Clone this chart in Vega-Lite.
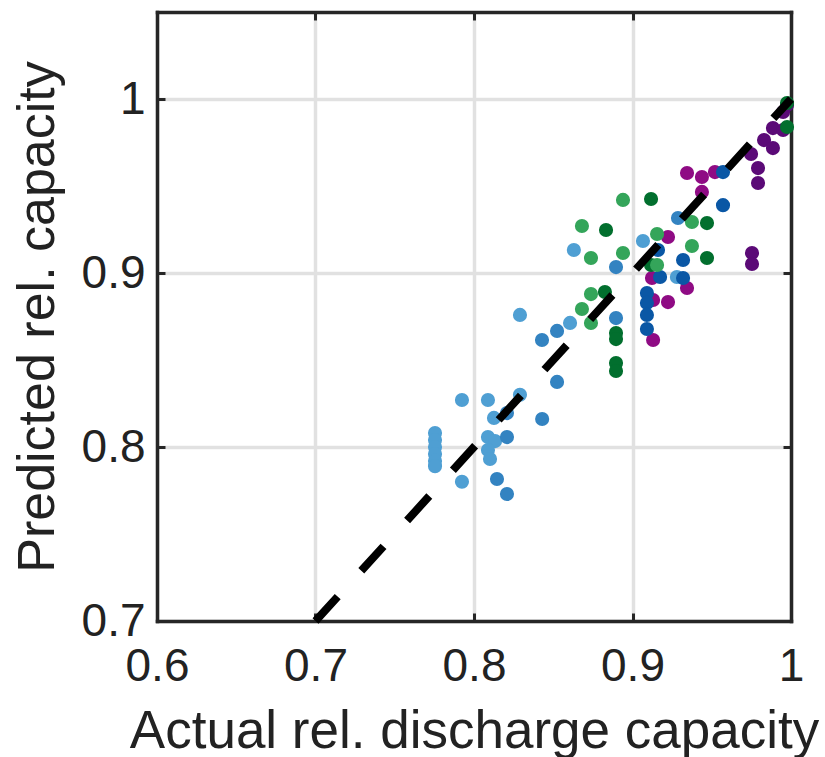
{
  "$schema": "https://vega.github.io/schema/vega-lite/v6.json",
  "width": 634,
  "height": 609,
  "autosize": {"type": "none"},
  "padding": {"left": 157, "top": 12, "right": 34, "bottom": 136},
  "background": "white",
  "config": {
    "view": {"stroke": null},
    "font": "Liberation Sans",
    "axis": {
      "labelFont": "Liberation Sans",
      "titleFont": "Liberation Sans",
      "labelColor": "#222222",
      "titleColor": "#222222",
      "labelFontSize": 46,
      "titleFontSize": 53,
      "titleFontWeight": "normal",
      "labelFlush": false,
      "labelOverlap": false,
      "gridColor": "#e1e1e1",
      "gridWidth": 3.5,
      "gridOpacity": 1,
      "domain": true,
      "domainColor": "#262626",
      "domainWidth": 3.5,
      "domainCap": "square",
      "tickColor": "#262626",
      "tickWidth": 3,
      "tickSize": -8
    }
  },
  "resolve": {"axis": {"x": "independent", "y": "independent"}},
  "layer": [
    {
      "data": {
        "values": [
          {"g": "MG", "x": 0.9344, "y": 0.9575},
          {"g": "MG", "x": 0.9438, "y": 0.9552},
          {"g": "MG", "x": 0.952, "y": 0.958},
          {"g": "MG", "x": 0.9438, "y": 0.9466},
          {"g": "MG", "x": 0.9224, "y": 0.9207},
          {"g": "MG", "x": 0.9123, "y": 0.8971},
          {"g": "MG", "x": 0.9344, "y": 0.8914},
          {"g": "MG", "x": 0.9224, "y": 0.8833},
          {"g": "MG", "x": 0.913, "y": 0.8845},
          {"g": "MG", "x": 0.913, "y": 0.8615},
          {"g": "PU", "x": 0.9748, "y": 0.9684},
          {"g": "PU", "x": 0.9792, "y": 0.9603},
          {"g": "PU", "x": 0.9792, "y": 0.9517},
          {"g": "PU", "x": 0.983, "y": 0.9764},
          {"g": "PU", "x": 0.9886, "y": 0.9718},
          {"g": "PU", "x": 0.9886, "y": 0.9833},
          {"g": "PU", "x": 0.995, "y": 0.9925},
          {"g": "PU", "x": 0.995, "y": 0.9822},
          {"g": "PU", "x": 0.9754, "y": 0.9115},
          {"g": "PU", "x": 0.9754, "y": 0.9052},
          {"g": "PU", "x": 0.9975, "y": 0.9966},
          {"g": "LB", "x": 0.7754, "y": 0.808},
          {"g": "LB", "x": 0.7754, "y": 0.804},
          {"g": "LB", "x": 0.7754, "y": 0.8},
          {"g": "LB", "x": 0.7754, "y": 0.796},
          {"g": "LB", "x": 0.7754, "y": 0.792},
          {"g": "LB", "x": 0.7754, "y": 0.789},
          {"g": "LB", "x": 0.7924, "y": 0.78},
          {"g": "LB", "x": 0.7924, "y": 0.827},
          {"g": "LB", "x": 0.8088, "y": 0.827},
          {"g": "LB", "x": 0.8088, "y": 0.8057},
          {"g": "LB", "x": 0.8133, "y": 0.8034},
          {"g": "LB", "x": 0.8088, "y": 0.7983},
          {"g": "LB", "x": 0.8101, "y": 0.7931},
          {"g": "LB", "x": 0.8126, "y": 0.8167},
          {"g": "LB", "x": 0.829, "y": 0.83},
          {"g": "LB", "x": 0.829, "y": 0.8759},
          {"g": "LB", "x": 0.8606, "y": 0.8713},
          {"g": "LB", "x": 0.863, "y": 0.9132},
          {"g": "LB", "x": 0.9066, "y": 0.9184},
          {"g": "LB", "x": 0.928, "y": 0.8977},
          {"g": "MB", "x": 0.8429, "y": 0.8615},
          {"g": "MB", "x": 0.8524, "y": 0.8667},
          {"g": "MB", "x": 0.8524, "y": 0.8374},
          {"g": "MB", "x": 0.843, "y": 0.8161},
          {"g": "MB", "x": 0.8208, "y": 0.8195},
          {"g": "MB", "x": 0.8208, "y": 0.8057},
          {"g": "MB", "x": 0.8145, "y": 0.7816},
          {"g": "MB", "x": 0.8208, "y": 0.773},
          {"g": "MB", "x": 0.8896, "y": 0.9034},
          {"g": "MB", "x": 0.8896, "y": 0.8741},
          {"g": "MB", "x": 0.9287, "y": 0.9316},
          {"g": "DB", "x": 0.9091, "y": 0.8885},
          {"g": "DB", "x": 0.9091, "y": 0.8828},
          {"g": "DB", "x": 0.9091, "y": 0.8759},
          {"g": "DB", "x": 0.9091, "y": 0.8678},
          {"g": "DB", "x": 0.9161, "y": 0.9132},
          {"g": "DB", "x": 0.9174, "y": 0.8977},
          {"g": "DB", "x": 0.9319, "y": 0.9075},
          {"g": "DB", "x": 0.9319, "y": 0.8971},
          {"g": "DB", "x": 0.9571, "y": 0.958},
          {"g": "DB", "x": 0.9571, "y": 0.939},
          {"g": "DG", "x": 0.9117, "y": 0.9425},
          {"g": "DG", "x": 0.8833, "y": 0.9247},
          {"g": "DG", "x": 0.8826, "y": 0.8891},
          {"g": "DG", "x": 0.8896, "y": 0.8655},
          {"g": "DG", "x": 0.8896, "y": 0.862},
          {"g": "DG", "x": 0.8896, "y": 0.8483},
          {"g": "DG", "x": 0.8896, "y": 0.8437},
          {"g": "DG", "x": 0.9117, "y": 0.9046},
          {"g": "DG", "x": 0.947, "y": 0.9287},
          {"g": "DG", "x": 0.947, "y": 0.9086},
          {"g": "DG", "x": 0.9975, "y": 0.9977},
          {"g": "DG", "x": 0.9975, "y": 0.9839},
          {"g": "LG", "x": 0.894, "y": 0.942},
          {"g": "LG", "x": 0.8681, "y": 0.927},
          {"g": "LG", "x": 0.8738, "y": 0.9086},
          {"g": "LG", "x": 0.894, "y": 0.9115},
          {"g": "LG", "x": 0.8738, "y": 0.8879},
          {"g": "LG", "x": 0.8681, "y": 0.8793},
          {"g": "LG", "x": 0.8738, "y": 0.8713},
          {"g": "LG", "x": 0.9155, "y": 0.9224},
          {"g": "LG", "x": 0.9155, "y": 0.9046},
          {"g": "LG", "x": 0.9375, "y": 0.9293},
          {"g": "LG", "x": 0.9375, "y": 0.9155}
        ]
      },
      "mark": {"type": "circle", "size": 200, "opacity": 1},
      "encoding": {
        "x": {
          "field": "x", "type": "quantitative",
          "scale": {"domain": [0.6, 1.0], "nice": false, "zero": false},
          "axis": {
            "orient": "bottom",
            "values": [0.6, 0.7, 0.8, 0.9, 1.0],
            "format": ".1~f",
            "labelPadding": 31,
            "title": "Actual rel. discharge capacity",
            "titleBaseline": "alphabetic",
            "titleY": 126
          }
        },
        "y": {
          "field": "y", "type": "quantitative",
          "scale": {"domain": [0.7, 1.05], "nice": false, "zero": false},
          "axis": {
            "orient": "left",
            "values": [0.7, 0.8, 0.9, 1.0],
            "format": ".1~f",
            "labelPadding": 20,
            "title": "Predicted rel. capacity",
            "titleFontSize": 52,
            "titleBaseline": "alphabetic",
            "titleX": -104
          }
        },
        "color": {
          "field": "g", "type": "nominal", "legend": null,
          "scale": {
            "domain": ["LB", "MB", "DB", "LG", "DG", "MG", "PU"],
            "range": ["#4f9fd3", "#3383c1", "#0a57a5", "#34a55a", "#026f2e", "#8f0b84", "#5b0a77"]
          }
        }
      }
    },
    {
      "data": {"values": [{"x": 0.7, "y": 0.7}, {"x": 1.0, "y": 1.0}]},
      "mark": {"type": "line", "color": "black", "strokeWidth": 8, "strokeDash": [33, 35], "strokeCap": "butt"},
      "encoding": {
        "x": {
          "field": "x", "type": "quantitative",
          "axis": {"orient": "top", "values": [0.6, 0.7, 0.8, 0.9, 1.0], "labels": false, "grid": false, "title": null}
        },
        "y": {
          "field": "y", "type": "quantitative",
          "axis": {"orient": "right", "values": [0.7, 0.8, 0.9, 1.0], "labels": false, "grid": false, "title": null}
        }
      }
    }
  ]
}
